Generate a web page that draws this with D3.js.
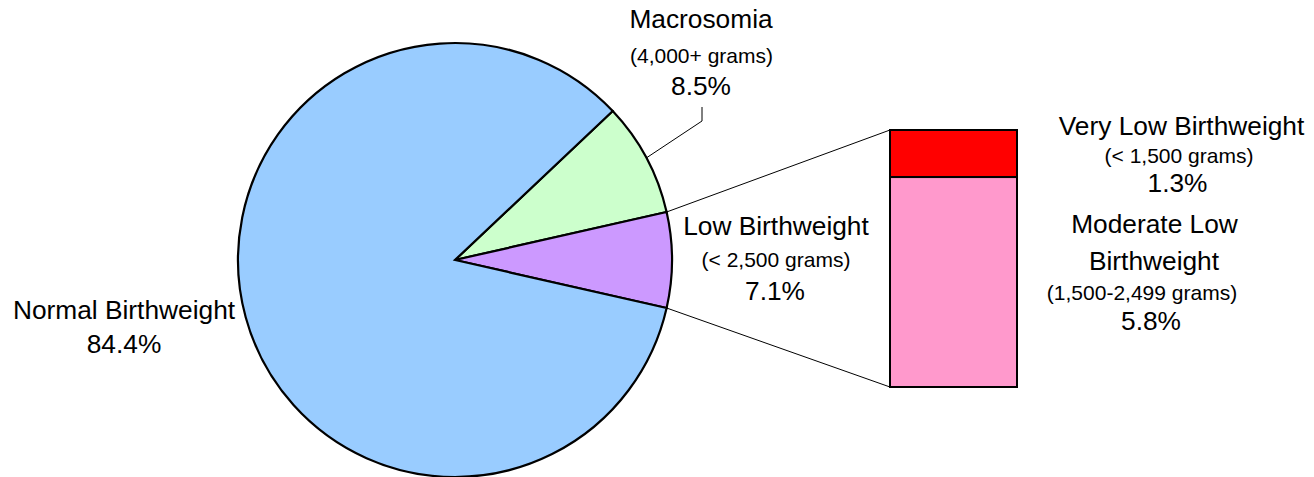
<!DOCTYPE html>
<html>
<head>
<meta charset="utf-8">
<script src="https://cdn.jsdelivr.net/npm/d3@7/dist/d3.min.js"></script>
<style>
  html, body { margin: 0; padding: 0; background: #fff; }
  svg { display: block; font-family: "Liberation Sans", Arial, sans-serif; }
</style>
</head>
<body>
<svg id="chart" width="1314" height="477"></svg>
<script>
// ---- Data ----
const pieCategories = ["Macrosomia", "Low Birthweight", "Normal Birthweight"];
const pieValues = [8.5, 7.1, 84.4];
const pieColors = ["#CCFFCC", "#CC99FF", "#99CCFF"];

const barCategories = ["Very Low Birthweight", "Moderate Low Birthweight"];
const barValues = [1.3, 5.8];
const barColors = ["#FF0000", "#FF99CC"];

const pieLabels = [
  { key: "Macrosomia", lines: ["Macrosomia", "(4,000+ grams)", "8.5%"] },
  { key: "Low Birthweight", lines: ["Low Birthweight", "(< 2,500 grams)", "7.1%"] },
  { key: "Normal Birthweight", lines: ["Normal Birthweight", "84.4%"] }
];
const barLabels = [
  { key: "Very Low Birthweight", lines: ["Very Low Birthweight", "(< 1,500 grams)", "1.3%"] },
  { key: "Moderate Low Birthweight", lines: ["Moderate Low", "Birthweight", "(1,500-2,499 grams)", "5.8%"] }
];

// ---- Layout ----
const svg = d3.select("#chart");
const cx = 455, cy = 260, R = 217;
const bigFont = 26.3, smallFont = 21;

// Start angle chosen so the Low Birthweight slice is centred at 3 o'clock
const total = d3.sum(pieValues);
const lowIdx = 1;
const before = d3.sum(pieValues.slice(0, lowIdx));
const startAngle = Math.PI / 2 - (before + pieValues[lowIdx] / 2) / total * 2 * Math.PI;

const pie = d3.pie().sort(null).startAngle(startAngle).endAngle(startAngle + 2 * Math.PI);
const arcs = pie(pieValues);
const arc = d3.arc().innerRadius(0).outerRadius(R);

const g = svg.append("g").attr("transform", `translate(${cx},${cy})`);
g.selectAll("path.slice").data(arcs).join("path")
  .attr("class", "slice")
  .attr("d", arc)
  .attr("fill", (d, i) => pieColors[i])
  .attr("stroke", "#000")
  .attr("stroke-width", 2.2)
  .attr("stroke-linejoin", "miter");

function polar(a, r) { return [cx + r * Math.sin(a), cy - r * Math.cos(a)]; }

// ---- Bar of the Low Birthweight slice ----
const barX = 890, barW = 127, barTop = 130, barBottom = 387;
const y = d3.scaleLinear().domain([0, d3.sum(barValues)]).range([barTop, barBottom]);
let acc = 0;
const stack = barValues.map((v, i) => { const s = { y0: acc, y1: acc + v, i }; acc += v; return s; });

// connector lines from slice edges to bar corners
const lowArc = arcs[lowIdx];
const pTop = polar(lowArc.startAngle, R);
const pBot = polar(lowArc.endAngle, R);
svg.append("line").attr("x1", pTop[0]).attr("y1", pTop[1]).attr("x2", barX).attr("y2", y(0))
  .attr("stroke", "#000").attr("stroke-width", 1);
svg.append("line").attr("x1", pBot[0]).attr("y1", pBot[1]).attr("x2", barX).attr("y2", y(d3.sum(barValues)))
  .attr("stroke", "#000").attr("stroke-width", 1);

svg.selectAll("rect.seg").data(stack).join("rect")
  .attr("class", "seg")
  .attr("x", barX).attr("width", barW)
  .attr("y", d => y(d.y0)).attr("height", d => y(d.y1) - y(d.y0))
  .attr("fill", d => barColors[d.i])
  .attr("stroke", "#000").attr("stroke-width", 2);

// ---- Leader line for Macrosomia ----
const mac = arcs[0];
const mMid = polar((mac.startAngle + mac.endAngle) / 2, R);
svg.append("polyline")
  .attr("points", [[mMid[0], mMid[1]], [702, 121], [702, 107]].map(p => p.join(",")).join(" "))
  .attr("fill", "none").attr("stroke", "#000").attr("stroke-width", 1);

// ---- Labels ----
function drawLabel(lines, positions) {
  lines.forEach((t, k) => {
    const p = positions[k];
    svg.append("text")
      .attr("x", p[0]).attr("y", p[1])
      .attr("text-anchor", "middle")
      .attr("font-size", p[2])
      .attr("fill", "#000")
      .text(t);
  });
}
drawLabel(pieLabels[0].lines, [[701, 28, bigFont], [701.5, 63, smallFont], [701, 95, bigFont]]);
drawLabel(pieLabels[1].lines, [[776, 235, bigFont], [776, 267, smallFont], [775, 300, bigFont]]);
drawLabel(pieLabels[2].lines, [[124, 319, bigFont], [124, 353, bigFont]]);
drawLabel(barLabels[0].lines, [[1181.5, 135, bigFont], [1179, 163, smallFont], [1177.5, 192, bigFont]]);
drawLabel(barLabels[1].lines, [[1154.5, 233, bigFont], [1154, 270, bigFont], [1142, 300, smallFont], [1151, 330, bigFont]]);
</script>
</body>
</html>
